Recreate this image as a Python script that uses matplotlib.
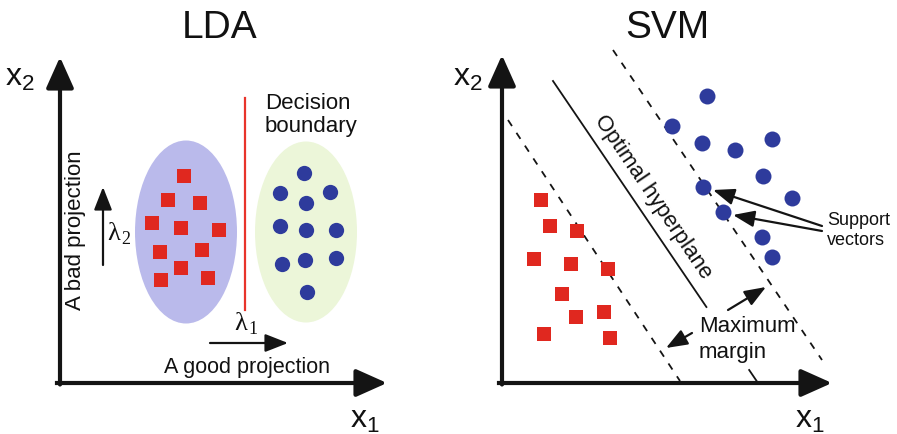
import matplotlib
matplotlib.use("Agg")
import matplotlib.pyplot as plt
from matplotlib.patches import Ellipse
import numpy as np

plt.rcParams['font.family'] = ['Liberation Sans', 'DejaVu Sans']
plt.rcParams['mathtext.fontset'] = 'custom'
plt.rcParams['mathtext.rm'] = 'Liberation Sans'
plt.rcParams['mathtext.it'] = 'Liberation Serif:italic'

# ---------------- data (pixel space of the diagram) ----------------
# LDA panel
lda_red_x = [184, 168, 200, 152, 181, 219, 160, 202, 181, 161, 208]
lda_red_y = [176, 200, 203, 223, 228, 230, 252, 250, 268, 280, 278]
lda_blue_x = [304, 280, 330, 306, 280, 306, 336, 282, 305, 336, 307]
lda_blue_y = [173, 193, 192, 203, 226, 230, 230, 264, 260, 258, 292]
lda_ellipse_centers = [(186, 232), (306, 232)]
lda_ellipse_sizes = [(102, 183), (102, 181)]
lda_boundary_x = [245, 245]
lda_boundary_y = [98, 310]

# SVM panel
svm_red_x = [541, 550, 577, 534, 571, 608, 562, 604, 576, 544, 610]
svm_red_y = [200, 226, 231, 259, 264, 269, 294, 312, 317, 334, 338]
svm_blue_x = [707, 672, 702, 735, 772, 763, 703, 792, 723, 762, 772]
svm_blue_y = [96, 126, 143, 150, 139, 176, 187, 198, 212, 237, 257]
hyperplane_x = [553, 758]
hyperplane_y = [81, 383]
hyperplane_gap_y = [307, 370]
margin_left_x = [508, 680]
margin_left_y = [120, 381]
margin_right_x = [613, 822]
margin_right_y = [50, 360]

C_RED = '#e0281f'
C_BLUE = '#2e3b9c'
C_ELL_BLUE = '#babaeb'
C_ELL_GREEN = '#ecf6d9'
C_AX = '#141414'

fig = plt.figure(figsize=(8.97, 4.34), dpi=100)
ax = fig.add_axes([0, 0, 1, 1])
ax.set_xlim(0, 897)
ax.set_ylim(434, 0)
ax.axis('off')


def arrow(start, tip, lw, hl, hw, z=5):
    ax.annotate('', xy=tip, xytext=start,
                arrowprops=dict(arrowstyle=f'-|>,head_length={hl},head_width={hw}',
                                lw=lw, color=C_AX, shrinkA=0, shrinkB=0,
                                mutation_scale=10), zorder=z)


def lam(x, y, sub):
    ax.text(x - 4, y, '\u03bb', fontsize=19, family='Liberation Serif',
            ha='center', va='baseline', color='#111')
    ax.text(x + 3, y + 4, sub, fontsize=13, family='Liberation Serif',
            ha='left', va='baseline', color='#111')


# ---------------- LDA ----------------
ax.text(220, 38, 'LDA', fontsize=28, ha='center', va='baseline', color='#111')
for (c, s, col) in zip(lda_ellipse_centers, lda_ellipse_sizes, [C_ELL_BLUE, C_ELL_GREEN]):
    ax.add_patch(Ellipse(c, s[0], s[1], facecolor=col, edgecolor='none', zorder=1))
ax.plot(lda_boundary_x, lda_boundary_y, color='#e8342b', lw=1.6, zorder=2)
ax.scatter(lda_red_x, lda_red_y, marker='s', s=9.5**2, color=C_RED, linewidths=0, zorder=3)
ax.scatter(lda_blue_x, lda_blue_y, marker='o', s=11**2, color=C_BLUE, linewidths=0, zorder=3)

ax.plot([57, 60], [383, 383], color=C_AX, lw=3)
arrow((60, 384.5), (60, 57), 3, 1.9, 0.85)
arrow((58.5, 383), (387, 383), 3, 1.9, 0.85)
ax.text(20, 78, r'$\mathregular{x_2}$', fontsize=23, ha='center', va='center', color='#111')
ax.text(365, 420, r'$\mathregular{x_1}$', fontsize=23, ha='center', va='center', color='#111')

arrow((103, 265), (103, 187), 1.6, 1.4, 0.55)
arrow((210, 343), (288, 343), 1.6, 1.4, 0.55)
lam(118, 240, '2')
lam(245, 330, '1')
ax.text(76, 230, 'A bad projection', fontsize=16, rotation=90, ha='center', va='center', color='#111')
ax.text(247, 373, 'A good projection', fontsize=15.5, ha='center', va='baseline', color='#111')
ax.text(265, 132, 'Decision\nboundary', fontsize=16, ha='left', va='baseline',
        linespacing=1.12, color='#111')

# ---------------- SVM ----------------
ax.text(667, 38, 'SVM', fontsize=28, ha='center', va='baseline', color='#111')
ax.plot(margin_left_x, margin_left_y, color=C_AX, lw=1.3, dashes=(4, 4.5), zorder=2)
ax.plot(margin_right_x, margin_right_y, color=C_AX, lw=1.3, dashes=(4, 4.5), zorder=2)

hx = np.array(hyperplane_x, float)
hy = np.array(hyperplane_y, float)
slope = (hx[1] - hx[0]) / (hy[1] - hy[0])
g0 = hx[0] + (hyperplane_gap_y[0] - hy[0]) * slope
g1 = hx[0] + (hyperplane_gap_y[1] - hy[0]) * slope
ax.plot([hx[0], g0], [hy[0], hyperplane_gap_y[0]], color=C_AX, lw=1.3, zorder=2)
ax.plot([g1, hx[1]], [hyperplane_gap_y[1], hy[1]], color=C_AX, lw=1.3, zorder=2)

ax.scatter(svm_red_x, svm_red_y, marker='s', s=9.5**2, color=C_RED, linewidths=0, zorder=3)
ax.scatter(svm_blue_x, svm_blue_y, marker='o', s=11.5**2, color=C_BLUE, linewidths=0, zorder=3)

ax.plot([499, 502], [383, 383], color=C_AX, lw=3)
arrow((502, 384.5), (502, 55), 3, 1.9, 0.85)
arrow((500.5, 383), (832, 383), 3, 1.9, 0.85)
ax.text(468, 78, r'$\mathregular{x_2}$', fontsize=23, ha='center', va='center', color='#111')
ax.text(810, 420, r'$\mathregular{x_1}$', fontsize=23, ha='center', va='center', color='#111')

ang = -np.degrees(np.arctan((hy[1] - hy[0]) / (hx[1] - hx[0])))
ax.text(653, 197, 'Optimal hyperplane', fontsize=16, rotation=ang, rotation_mode='anchor',
        ha='center', va='center', color='#111')

arrow((822, 226), (713, 190), 1.6, 1.3, 0.5)
arrow((822, 231), (733, 215), 1.6, 1.3, 0.5)
ax.text(827, 245, 'Support\nvectors', fontsize=13, ha='left', va='baseline',
        linespacing=1.2, color='#111')

arrow((728, 310), (766, 287), 1.6, 1.3, 0.5)
arrow((692, 333), (666, 348), 1.6, 1.3, 0.5)
ax.text(699, 358, 'Maximum\nmargin', fontsize=16, ha='left', va='baseline',
        linespacing=1.3, color='#111')

fig.savefig('out.png', dpi=100)
